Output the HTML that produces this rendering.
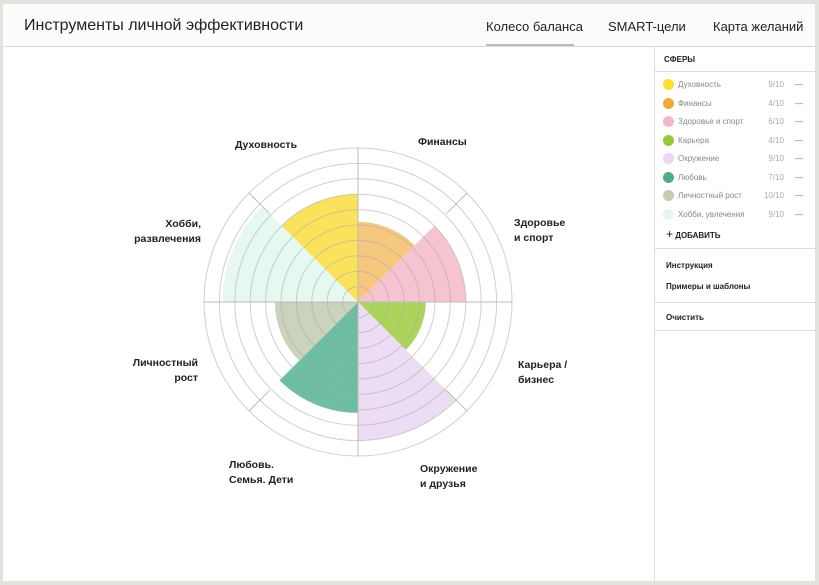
<!DOCTYPE html>
<html><head><meta charset="utf-8"><style>
body{margin:0;width:819px;height:585px;background:#e3e2dc;font-family:"Liberation Sans","Noto Sans CJK SC",sans-serif;overflow:hidden}
#frame{position:absolute;left:3px;top:4px;width:812px;height:577px;background:#fff}
#hdr{position:absolute;left:0;top:0;width:812px;height:42px;background:#fdfbfc;border-bottom:1px solid #d8d6d6}
.title{position:absolute;left:21px;top:13px;font-size:16px;color:#222}
.tab{position:absolute;top:15px;font-size:13px;color:#222}
#uline{position:absolute;left:483px;top:40px;width:88px;height:2px;background:#bbb}
#side{position:absolute;left:651px;top:43px;width:161px;height:534px;border-left:1px solid #ddd}
.sh{font-size:8px;font-weight:bold;color:#222;position:absolute;left:9px}
.hr{position:absolute;left:0;width:161px;height:1px;background:#ddd}
.it{position:absolute;left:8px;font-size:8px;color:#888;height:12px;width:150px}
.it .d{position:absolute;left:0;top:0;width:11px;height:11px;border-radius:50%}
.it .n{position:absolute;left:15px;top:1px}
.it .v{position:absolute;left:99px;top:1px;width:22px;text-align:right;color:#aaa}
.it .m{position:absolute;left:132px;top:1px;color:#777}
.lk{position:absolute;left:11px;font-size:8px;font-weight:bold;color:#222}
</style></head><body>
<div id="frame">
<div id="hdr">
<div class="title">Инструменты личной эффективности</div>
<div class="tab" style="left:483px">Колесо баланса</div>
<div class="tab" style="left:605px">SMART-цели</div>
<div class="tab" style="left:710px">Карта желаний</div>
<div id="uline"></div>
</div>
<svg id="chart" width="651" height="534" style="position:absolute;left:0;top:43px"></svg>
<div id="side">
<div class="sh" style="top:8px">СФЕРЫ</div>
<div class="hr" style="top:24px"></div>
<div id="items"></div>
<div class="lk" style="top:180px;font-size:8px"><span style="font-size:12px;font-weight:normal">+</span> ДОБАВИТЬ</div>
<div class="hr" style="top:201px"></div>
<div class="lk" style="top:214px">Инструкция</div>
<div class="lk" style="top:235px">Примеры и шаблоны</div>
<div class="hr" style="top:255px"></div>
<div class="lk" style="top:266px">Очистить</div>
<div class="hr" style="top:283px"></div>
</div>
</div>
<script>
const categories=["Финансы","Здоровье и спорт","Карьера","Окружение","Любовь","Личностный рост","Хобби, увлечения","Духовность"];
const chartValues=[5.2,7,4.4,9,7.2,5.4,8.8,7];
const colors=["#f6c77e","#f5c4d0","#acd35a","#ecddf4","#6dbea2","#cbd3bc","#e7f8f1","#fbe25c"];
const labelLines=[["Финансы"],["Здоровье","и спорт"],["Карьера /","бизнес"],["Окружение","и друзья"],["Любовь.","Семья. Дети"],["Личностный","рост"],["Хобби,","развлечения"],["Духовность"]];
const legendNames=["Духовность","Финансы","Здоровье и спорт","Карьера","Окружение","Любовь","Личностный рост","Хобби, увлечения"];
const legendValues=[9,4,6,4,9,7,10,9];
const legendColors=["#fbe033","#f5a83a","#f4b8c9","#96c93a","#ecd6f5","#4fae8a","#c4cdb0","#e2f8ef"];
const maxV=10;
/* label layout (not data) */
const labelPos=[[415,98,'start'],[511,179,'start'],[515,321,'start'],[417,425,'start'],[226,421,'start'],[195,319,'end'],[198,180,'end'],[263,101,'middle']];
const NS="http://www.w3.org/2000/svg";
const svg=document.getElementById('chart');
const cx=355,cy=255,R=154;
function rs(v){return v/maxV*R;}
function pt(a,r){return [cx+r*Math.sin(a),cy-r*Math.cos(a)];}
function mk(t,a){const e=document.createElementNS(NS,t);for(const k in a)e.setAttribute(k,a[k]);svg.appendChild(e);return e;}
categories.forEach((c,i)=>{
 const a0=i*Math.PI/4,a1=(i+1)*Math.PI/4,r=rs(chartValues[i]);
 const p0=pt(a0,r),p1=pt(a1,r);
 const p=mk('path',{d:`M${cx},${cy}L${p0[0]},${p0[1]}A${r},${r} 0 0 1 ${p1[0]},${p1[1]}Z`,fill:colors[i]});
 
 
});
for(let k=1;k<=maxV;k++){const c=mk('circle',{cx:cx,cy:cy,r:rs(k),fill:'none',stroke:'#aaa','stroke-opacity':0.55,'stroke-width':1});
 
 }
for(let i=0;i<8;i++){const a=i*Math.PI/4;const r0=(i%2==0)?0:rs(8.1);const p0=pt(a,r0),p1=pt(a,R);
 const l=mk('line',{x1:p0[0],y1:p0[1],x2:p1[0],y2:p1[1],stroke:'#bbb','stroke-width':1});
 
 }
labelLines.forEach((ls,i)=>{
 const [x,y,anchor]=labelPos[i];
 const t=mk('text',{x:x,y:y,'text-anchor':anchor,'font-size':10.5,'font-weight':'bold',fill:'#222','font-family':'"Liberation Sans",sans-serif'});
 ls.forEach((s,j)=>{const ts=document.createElementNS(NS,'tspan');ts.setAttribute('x',x);ts.setAttribute('dy',j?15:0);ts.textContent=s;t.appendChild(ts);});
 
 
});
const items=document.getElementById('items');
legendNames.forEach((n,i)=>{
 const d=document.createElement('div');d.className='it';d.style.top=(32+i*18.5)+'px';
 d.innerHTML=`<div class="d" style="background:${legendColors[i]}"></div><span class="n">${n}</span><span class="v">${legendValues[i]}/10</span><span class="m">—</span>`;
 
 
 items.appendChild(d);
});
</script>
</body></html>
